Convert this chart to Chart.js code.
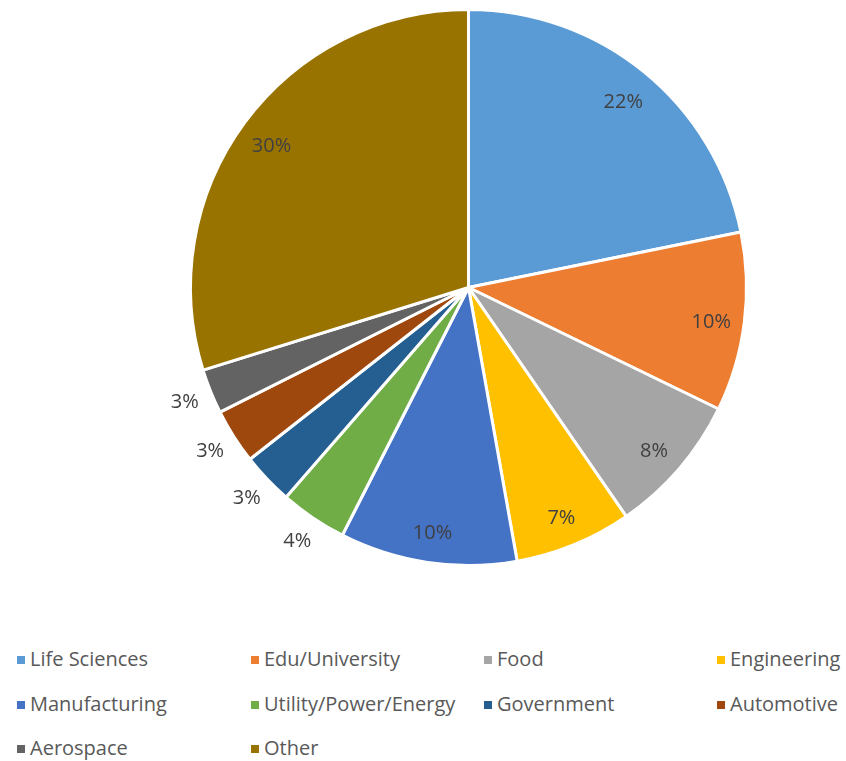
<!DOCTYPE html>
<html>
<head>
<meta charset="utf-8">
<script src="https://cdn.jsdelivr.net/npm/chart.js@4.4.0/dist/chart.umd.min.js"></script>
<style>
  html, body { margin: 0; padding: 0; background: #fff; }
  #wrap { position: relative; width: 846px; height: 761px; }
  #c { position: absolute; left: 0; top: 0; }
  .lg { position: absolute; font-family: "Open Sans", Lato, sans-serif; font-size: 20px; color: #595959; white-space: nowrap; line-height: 24px; }
  .sq { position: absolute; width: 8px; height: 8px; }
</style>
</head>
<body>
<div id="wrap">
  <canvas id="c" width="846" height="610"></canvas>
  <div id="legend"></div>
</div>
<script>
const categories = ["Life Sciences", "Edu/University", "Food", "Engineering", "Manufacturing", "Utility/Power/Energy", "Government", "Automotive", "Aerospace", "Other"];
const values = [21.8, 10.4, 8.2, 6.8, 10.3, 3.9, 3.0, 3.2, 2.6, 29.8];
const colors = ["#5B9BD5", "#ED7D31", "#A5A5A5", "#FFC000", "#4472C4", "#70AD47", "#255E91", "#9E480E", "#636363", "#997300"];
const outsideThreshold = 5;

const labelPlugin = {
  id: 'pctLabels',
  afterDatasetsDraw(chart) {
    const ctx = chart.ctx;
    const meta = chart.getDatasetMeta(0);
    const total = values.reduce((a, b) => a + b, 0);
    ctx.save();
    ctx.font = '20px "Open Sans", Lato, sans-serif';
    ctx.fillStyle = '#404040';
    ctx.textAlign = 'center';
    ctx.textBaseline = 'middle';
    meta.data.forEach((arc, i) => {
      const p = arc.getProps(['x', 'y', 'startAngle', 'endAngle', 'outerRadius'], true);
      const mid = (p.startAngle + p.endAngle) / 2;
      const pct = values[i] / total * 100;
      const outside = pct < outsideThreshold;
      const r = outside ? p.outerRadius + 28 : p.outerRadius * 0.88;
      const x = p.x + Math.cos(mid) * r;
      const y = p.y + Math.sin(mid) * r + (outside ? 0 : 4);
      ctx.fillText(Math.round(pct) + '%', x, y);
    });
    ctx.restore();
  }
};

new Chart(document.getElementById('c'), {
  type: 'pie',
  data: {
    labels: categories,
    datasets: [{
      data: values,
      backgroundColor: colors,
      borderColor: '#ffffff',
      borderWidth: 3
    }]
  },
  options: {
    responsive: false,
    animation: false,
    events: [],
    layout: { padding: { left: 91, right: 0, top: 8, bottom: 43 } },
    plugins: { legend: { display: false }, tooltip: { enabled: false } }
  },
  plugins: [labelPlugin]
});

const legendX = [17, 251, 484, 717];
const legendY = [660, 705, 749];
const lg = document.getElementById('legend');
categories.forEach((name, i) => {
  const col = i % 4, row = Math.floor(i / 4);
  const sq = document.createElement('div');
  sq.className = 'sq';
  sq.style.left = legendX[col] + 'px';
  sq.style.top = (legendY[row] - 4) + 'px';
  sq.style.background = colors[i];
  lg.appendChild(sq);
  const t = document.createElement('div');
  t.className = 'lg';
  t.style.left = (legendX[col] + 13) + 'px';
  t.style.top = (legendY[row] - 13) + 'px';
  t.textContent = name;
  lg.appendChild(t);
});
</script>
</body>
</html>
